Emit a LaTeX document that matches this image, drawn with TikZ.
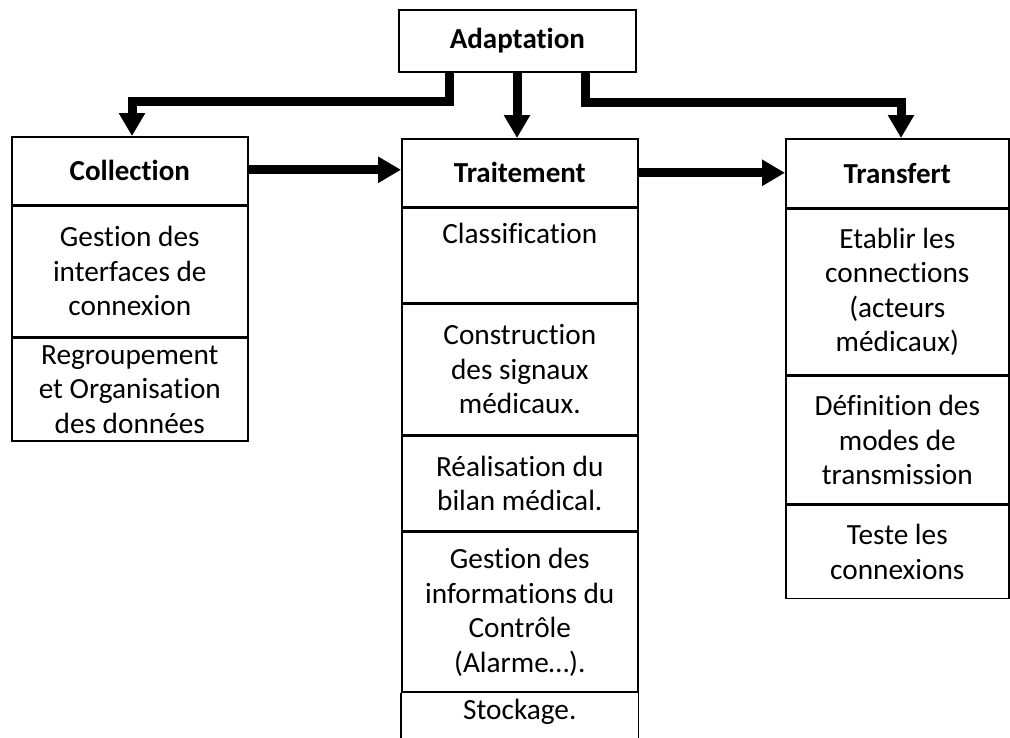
\documentclass[tikz,border=0pt]{standalone}
\usepackage{fontspec}
\setmainfont{Carlito}[Ligatures=NoCommon]
\usetikzlibrary{arrows.meta}
\begin{document}
\begin{tikzpicture}[x=1pt,y=-1pt,
  cell/.style={draw,line width=1.6pt,anchor=north west,inner sep=0pt,
    align=center,font=\fontsize{29.3}{34.5}\selectfont},
  head/.style={cell,font=\fontsize{29}{34.5}\selectfont\bfseries},
  conn/.style={line width=9pt,line join=miter,
    -{Triangle[length=23pt,width=25pt]}}]
\clip (0,0) rectangle (1010,737);
% top box
\node[head,minimum width=237pt,minimum height=62pt] (A) at (398,9) {Adaptation};
% left column
\node[head,minimum width=236pt,minimum height=68pt] (CH) at (11,136) {Collection};
\node[cell,minimum width=236pt,minimum height=130pt] (C1) at (CH.south west)
  {Gestion des\\interfaces de\\connexion};
\node[cell,minimum width=236pt,minimum height=103pt] (C2) at (C1.south west)
  {Regroupement\\et Organisation\\des données};
% middle column
\node[head,minimum width=236pt,minimum height=68pt] (TH) at (401,138) {Traitement};
\node[cell,minimum width=236pt,minimum height=94pt] (T1) at (TH.south west)
  {Classification\\\strut};
\node[cell,minimum width=236pt,minimum height=131pt] (T2) at (T1.south west)
  {Construction\\des signaux\\médicaux.};
\node[cell,minimum width=236pt,minimum height=94pt] (T3) at (T2.south west)
  {Réalisation du\\bilan médical.};
\node[cell,minimum width=236pt,minimum height=160pt] (T4) at (T3.south west)
  {Gestion des\\informations du\\Contrôle\\(Alarme…).};
% last cell runs past the lower edge: sides only
\node[cell,draw=none,minimum width=236pt,minimum height=36pt] (T5) at (T4.south west) {Stockage.};
\draw[line width=1.6pt] (T4.south west) -- ++(0,80) (T4.south east) -- ++(0,80);
% right column
\node[head,minimum width=223pt,minimum height=69pt] (RH) at (785,138) {Transfert};
\node[cell,minimum width=223pt,minimum height=165pt] (R1) at (RH.south west)
  {Etablir les\\connections\\(acteurs\\médicaux)};
\node[cell,minimum width=223pt,minimum height=128pt] (R2) at (R1.south west)
  {Définition des\\modes de\\transmission};
\node[cell,minimum width=223pt,minimum height=93pt] (R3) at (R2.south west)
  {Teste les\\connexions};
% connectors
\draw[conn] ([xshift=51pt]A.south west) -- ++(0,29) -| ([xshift=121pt]CH.north west);
\draw[conn] ([xshift=116pt]TH.north west |- A.south) -- ([xshift=116pt]TH.north west);
\draw[conn] ([xshift=187pt]A.south west) -- ++(0,30) -| ([xshift=116pt]RH.north west);
\draw[conn] ([yshift=1pt]CH.east) -- ([yshift=1pt]CH.east -| TH.west);
\draw[conn] (TH.east) -- (TH.east -| RH.west);
\end{tikzpicture}
\end{document}
